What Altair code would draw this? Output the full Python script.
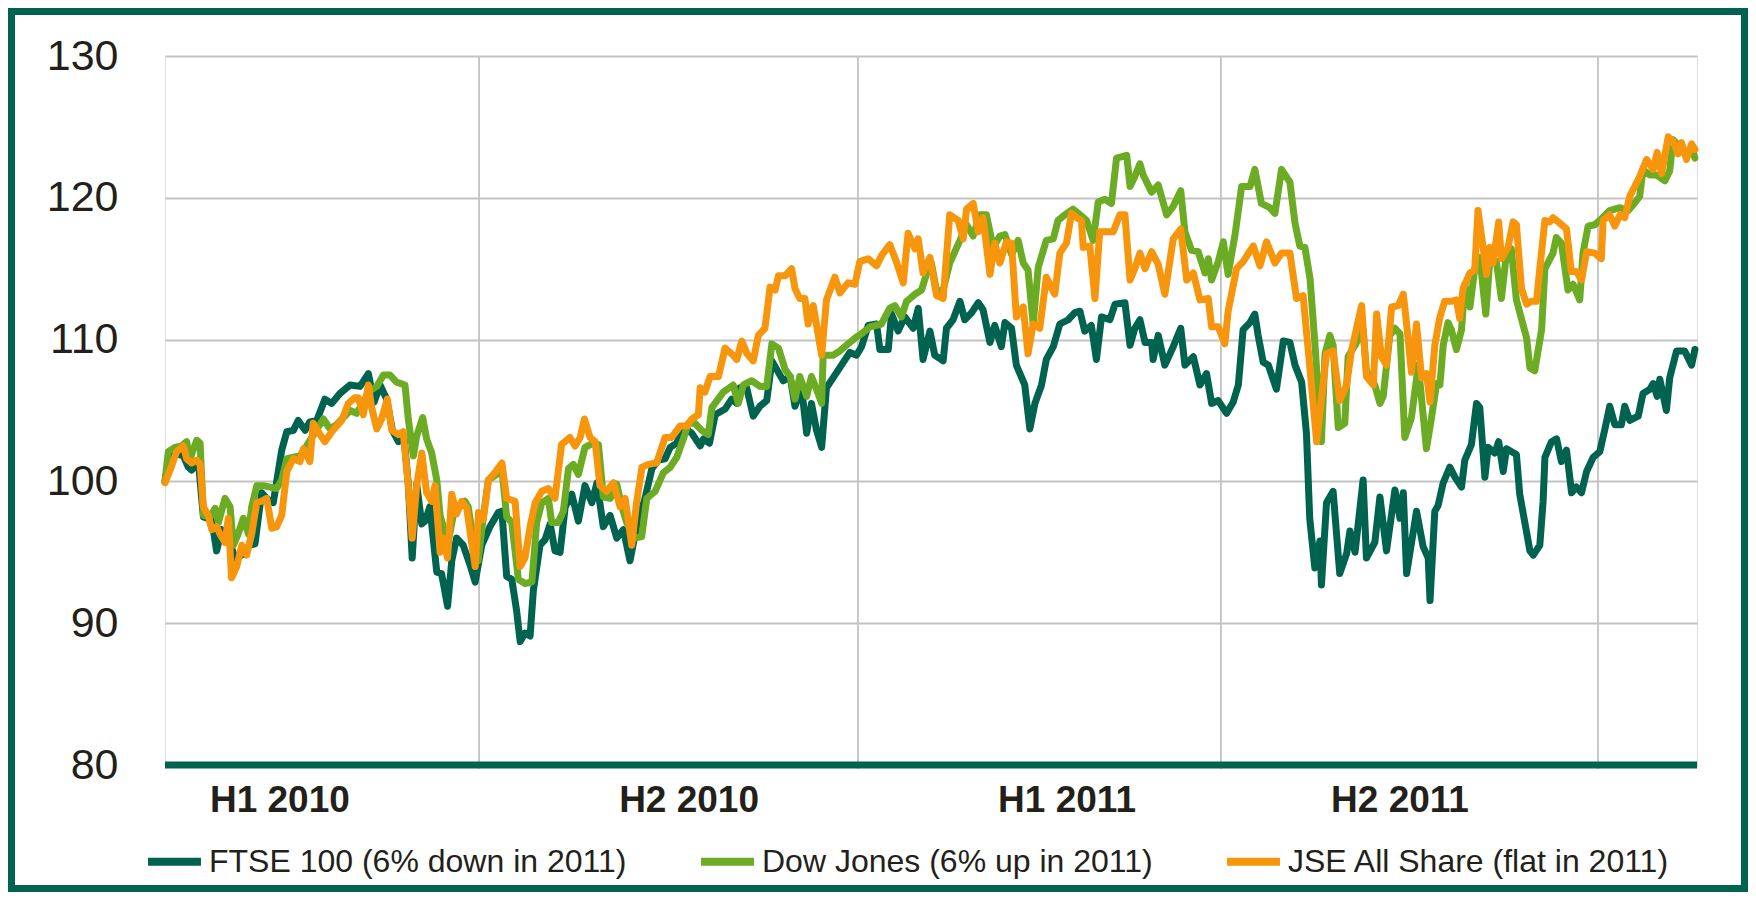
import altair as alt
import pandas as pd

# ---- data (trading-day index from the start of the window, index level) ----
ftse_points = [(0,100.0),(1.7,102.1),(6.1,101.8),(7.8,101.0),(8.9,100.8),(11.1,101.4),(12.8,97.5),(15.6,97.3),(17.2,95.1),(18.9,96.6),(21.1,96.0),(23.3,94.6),(25.6,94.8),(28.3,95.5),(30,95.6),(32.2,99.2),(34.4,98.7),(36.1,98.5),(38.9,102.2),(40.6,103.5),(42.8,103.6),(44.4,104.3),(46.7,103.6),(48.3,104.2),(50.6,104.3),(53.3,105.8),(55.6,105.5),(58.3,106.2),(61.7,106.8),(65,106.7),(67.8,107.6),(69.7,105.6),(71.7,106.8),(73.9,105.8),(75.8,103.6),(77.8,102.8),(79.7,103.1),(81.1,99.8),(82.4,94.6),(83.9,99.8),(85.6,97.0),(86.7,97.2),(88.3,98.2),(90.6,93.6),(92.2,93.5),(94.2,91.2),(95.6,94.4),(97.2,96.0),(99.4,95.5),(101.7,94.1),
(103.4,92.9),(105.6,95.5),(108.3,96.8),(111.1,97.8),(112.3,97.9),(113.9,93.3),(115.6,93.1),(117.2,90.9),(118.4,88.7),(120,89.3),(121.7,89.1),(122.8,92.3),(125,95.5),(126.7,95.9),(128.4,97.0),(130,95.1),(131.7,95.0),(133.4,98.2),(135.6,99.1),(137.8,97.2),(140,99.7),(142.3,98.5),(144,99.9),(146.1,96.8),(148.4,97.6),(150.6,96.0),(152.8,96.6),(155,94.4),(157.2,96.8),(160,98.8),(162.3,100.9),(164.5,101.5),(166.7,101.6),(168.4,102.4),(170.6,102.7),(172.8,103.8),(175.6,103.4),(178.4,102.5),(179.5,103.0),(181.5,102.7),(183.4,104.7),(186.7,105.1),(188.9,105.8),(190.6,105.5),(191.7,106.6),(193.9,106.6),(196.1,104.6),(198.3,105.3),(200.6,105.7),(202.3,108.5),(203.9,107.9),(206.1,107.1),(208.4,107.4),
(210,105.3),(212.2,106.6),(213.9,103.4),(215.5,105.5),(217.2,103.6),(218.9,102.4),(220.5,106.6),(223.3,107.5),(225.5,108.2),(228.3,109.1),(230.5,108.9),(232.2,109.5),(234.4,111.0),(237.2,111.1),(238.3,109.3),(241.1,109.3),(242.2,111.8),(244.4,110.6),(246.6,111.6),(249.4,110.8),(251.1,112.2),(252.7,108.6),(255,110.6),(256.6,108.9),(259.4,108.5),(260.5,110.8),(262.7,111.4),(265,112.7),(266.6,111.4),(268.9,111.9),(271.1,112.6),(272.7,112.1),(275,109.8),(276.6,111.0),(278.8,109.5),(280,111.2),(282.2,110.8),(283.8,108.2),(286.6,106.8),(288.3,103.7),(290,105.5),(292.2,106.8),(293.8,108.6),(296.1,109.5),(298.3,111.1),(301.1,111.4),(303.3,111.9),(305,112.0),(306.6,110.6),(308.8,111.0),(310.5,108.6),(312.2,111.6),
(315,111.4),(316.7,112.5),(320,112.6),(321.7,109.6),(323.3,110.8),(325,111.4),(326.7,109.8),(328.9,109.8),(329.4,108.6),(331.1,110.3),(333.3,108.2),(336.1,109.5),(338.6,110.8),(340,108.2),(342.8,108.8),(345,106.8),(347.2,107.6),(348.9,105.5),(351.1,105.7),(353.9,104.8),(356.1,105.6),(357.8,106.8),(359.4,110.7),(361.7,111.2),(363.3,111.8),(364.4,110.3),(366.1,108.4),(367.8,108.2),(370.5,106.5),(372.8,109.9),(375,109.8),(376.7,108.2),(378.9,107.0),(380.5,103.4),(381.6,97.4),(383.3,93.9),(385,95.8),(385.5,92.7),(387.2,98.5),(389.4,99.3),(391.6,93.5),(393.9,94.9),(395,96.5),(396.7,95.0),(399.4,100.1),(400.5,94.6),(403.3,95.7),(405,98.9),(407.2,95.1),(410,99.4),(411.7,97.4),(412.8,99.2),(413.9,93.5),(417.2,97.9),(419.4,95.4),(421.1,94.6),(421.7,91.6),(423.3,97.9),
(424.4,98.3),(426.1,99.9),(428.3,101.0),(430,100.3),(432.2,99.6),(433.3,101.5),(435.5,102.6),(437.2,105.5),(438.3,105.2),(440,100.3),(441.1,102.4),(443.3,102.0),(444.6,102.8),(446.1,100.7),(447.2,102.3),(450.5,101.9),(451.6,99.1),(453.9,96.4),(455,95.1),(456.1,94.8),(458.3,95.5),(459.4,98.6),(460,101.7),(462.2,102.8),(463.9,103.0),(465.5,101.4),(467.2,102.2),(468.9,99.2),(470.5,99.6),(472.2,99.2),(473.9,100.7),(476.1,101.7),(478.3,102.1),(480,103.7),(481.6,105.3),(483.3,104.0),(485.5,104.0),(486.6,105.3),(488.3,104.3),(491.1,104.6),(492.7,106.2),(495,106.5),(496.1,106.9),(497.4,106.0),(498.3,107.2),(500.5,105.0),(501.6,107.3),(503.9,109.2),(506.6,109.2),(508.9,108.2),(510,109.3)]

dow_points = [(0,100.0),(1.1,102.1),(3.3,102.4),(5.6,102.5),(7.2,102.8),(8.3,101.6),(10.6,102.9),(11.7,102.7),(12.8,97.6),(15,97.5),(16.7,98.1),(17.8,97.1),(20,98.8),(21.7,98.2),(22.8,95.5),(24.4,96.3),(26.1,97.4),(27.8,96.3),(28.9,98.2),(30.6,99.7),(32.8,99.7),(35,99.6),(37.2,99.5),(38.9,100.1),(40.6,101.6),(42.8,101.7),(45,101.8),(47.2,102.5),(52.8,104.4),(55,103.7),(57.2,104.0),(61.7,105.0),(63.9,104.8),(68.3,106.4),(70.6,106.7),(72.8,107.5),(75,107.5),(77.2,107.0),(80,106.8),(81.1,104.4),(82.8,101.8),(83.9,103.2),(85.9,104.5),(87.2,103.0),(88.9,102.0),(90.6,100.1),(91.7,97.6),(92.8,96.8),(94.4,95.7),(96.1,97.6),(97.8,98.1),(100,98.6),(101.1,98.2),(103.3,95.0),(104.4,94.4),(106.1,97.5),
(107.8,100.1),(110.6,100.5),(112.3,100.9),(113.9,97.5),(115.6,97.1),(117.8,93.1),(120,92.8),(122.3,92.9),(123.9,97.1),(125.6,98.5),(127.8,98.8),(128.9,97.1),(131.1,97.1),(132.8,97.9),(134.5,100.9),(136.1,101.2),(137.8,100.5),(140,102.4),(142.8,102.7),(144.5,102.6),(146.1,98.9),(148.4,98.8),(150.6,99.8),(152.3,98.2),(153.9,97.1),(156.7,96.0),(158.9,96.1),(160.6,98.8),(163.4,99.3),(166.1,100.6),(168.4,101.0),(170.6,101.7),(172.8,103.0),(174.5,104.1),(176.7,104.1),(178.9,103.6),(181.1,103.3),(182.3,105.2),(186.1,106.3),(189.4,106.8),(191.1,105.5),(192.8,106.8),(195.6,107.1),(198.3,106.7),(200.6,106.7),(202.3,109.7),(204.5,109.4),(206.7,107.9),(208.4,107.4),
(210,105.8),(211.6,107.4),(213.9,106.0),(215.5,107.4),(217.2,106.5),(218.9,105.5),(219.4,108.9),(222.7,108.9),(225,109.2),(227.7,109.7),(230,110.1),(232.7,110.5),(235,110.9),(238.8,111.1),(241.6,112.2),(243.3,112.4),(245.5,111.6),(247.2,112.7),(250,113.2),(252.2,113.5),(253.8,114.6),(255.5,115.4),(257.2,113.4),(259.4,113.5),(261.6,115.4),(265,117.0),(267.2,118.1),(269.4,117.3),(271.6,118.8),(273.8,118.8),(276.1,116.5),(278.3,117.3),(280,117.4),(282.2,116.0),(284.4,117.0),(286.1,115.4),(287.7,114.9),(289.4,111.1),(291.1,115.1),(293.8,117.0),(296.1,117.1),(297.7,118.4),(300,118.8),(302.7,119.2),(305,118.8),(307.2,118.4),(309.4,117.0),(311.1,119.7),(313.3,119.9),(315.5,119.6),
(317.2,122.8),(320.6,123.0),(321.7,120.8),(323.3,121.5),(325,122.4),(326.1,121.6),(328.9,120.4),(331.1,120.9),(333.9,118.8),(336.1,119.4),(338.6,120.5),(340,117.6),(342.2,116.3),(344.4,116.2),(346.7,114.7),(347.8,115.7),(348.9,114.2),(351.1,115.5),(352.8,116.9),(354.4,114.6),(356.7,117.4),(358.9,120.8),(361.7,120.8),(363.3,122.0),(365.5,119.6),(368.3,119.3),(370,118.9),(372.2,122.0),(375,121.1),(376.7,118.2),(378.3,116.6),(380,116.5),(381.7,114.3),(383.3,109.8),(385.5,102.8),(386.7,109.0),(388.3,110.3),(389.4,109.6),(391.1,103.8),(393.3,104.1),(394.4,108.8),(396.7,109.6),(399.4,110.7),(400.5,107.8),(403.3,106.8),(405,105.5),(406.1,106.0),(408.3,110.3),(410,110.8),(411.7,110.4),(413.3,103.1),(415.5,104.5),(417.8,108.2),(420.5,102.3),(422.2,104.5),(423.9,106.9),
(425,106.8),(426.1,109.6),(427.7,111.2),(428.8,110.7),(430.5,109.3),(432.2,110.7),(433.3,113.9),(435,112.3),(436.6,115.0),(438.3,115.8),(440.3,111.8),(441.6,115.5),(443.8,115.5),(445.5,112.9),(447.2,116.1),(448.8,116.4),(450.5,112.8),(453.9,110.1),(455,108.0),(456.6,107.8),(458.9,110.7),(460,115.0),(462.7,116.1),(463.8,117.2),(465.5,116.8),(467.7,113.5),(469.4,113.9),(471.6,112.8),(472.7,116.1),(474.4,118.0),(476.6,118.1),(478.8,118.5),(481.6,119.1),(485,119.3),(487.7,119.1),(489.4,119.5),(491.6,120.1),(492.7,122.0),(495,121.6),(497.2,121.6),(500,121.2),(501.6,121.9),(502.7,124.1),(505,123.6),(507.2,123.0),(508.9,123.6),(510,122.8)]

jse_points = [(0,99.9),(1.7,100.8),(3.9,102.1),(6.1,102.5),(7.2,101.6),(8.9,101.3),(10.6,101.5),(11.7,101.2),(12.8,98.2),(14.4,97.6),(15.6,96.6),(17.2,96.8),(18.3,96.3),(20,95.7),(21.1,97.4),(22.2,93.2),(23.9,94.0),(25.6,95.5),(27.2,94.8),(28.9,96.3),(30.6,98.5),(32.2,98.6),(33.9,98.8),(35.6,96.7),(37.2,96.8),(38.9,97.6),(40.6,100.7),(42.8,101.6),(45,101.4),(46.1,102.3),(48.3,101.4),(49.4,104.1),(51.7,103.3),(53.3,102.8),(55.6,103.5),(58.9,104.3),(61.1,105.5),(63.3,105.9),(64.4,105.9),(66.1,104.7),(67.8,106.8),(68.9,105.2),(70.6,103.7),(72.2,104.4),(74.1,105.8),(75.6,103.6),(77.8,103.3),(79.4,103.5),(81.1,99.7),(82.4,96.0),(83.9,99.7),(85.6,102.0),(87.2,99.2),(88.9,98.6),(90,99.7),(91.7,95.0),(92.8,96.0),(94.2,94.6),(95.6,99.1),(97.2,97.7),(98.9,98.6),(100.6,98.1),(102.2,95.7),
(103.4,94.0),(104.5,97.8),(106.1,97.3),(107.8,100.1),(109.5,100.5),(112.3,101.3),(113.9,98.8),(116.7,98.6),(118.4,94.0),(120,94.6),(121.7,96.8),(123.4,98.5),(125.6,99.3),(127.8,99.5),(130,98.8),(132.2,102.6),(135,103.1),(136.7,102.5),(138.4,103.1),(139.8,104.4),(141.7,103.1),(143.4,102.8),(145,99.7),(147.2,99.3),(149.5,99.9),(151.7,98.2),(153.4,98.8),(155.6,95.5),(157.2,98.5),(159,101.0),(161.1,101.2),(163.9,101.3),(166.7,103.1),(168.9,103.1),(171.7,103.9),(173.9,103.9),(175.6,104.4),(177.8,104.7),(178.4,106.6),(180,106.3),(181.7,107.4),(184.5,107.4),(186.7,109.4),(188.9,109.0),(190.6,108.6),(192.3,109.9),(194,109.0),(196.1,108.5),(197.8,110.3),(200,110.8),(201.7,113.7),(203.4,113.5),(204.5,114.5),(206.7,114.5),(208.9,115.0),
(210,113.6),(211.6,112.9),(213.3,112.9),(214.4,111.1),(216.1,112.4),(218.9,108.9),(220.5,112.8),(223.3,114.4),(225,113.3),(227.7,114.0),(230,113.9),(231.6,115.5),(234.4,115.7),(237.2,115.2),(238.8,115.9),(241.6,116.7),(243.8,115.5),(246.1,114.0),(247.7,117.5),(250,116.4),(251.1,117.1),(252.7,114.7),(255,115.8),(257.2,113.1),(259.4,112.9),(261.6,118.8),(264.4,118.4),(266.1,117.1),(267.2,119.2),(269.4,119.6),(271.1,117.6),(272.7,118.6),(275,114.6),(276.6,116.8),(278.3,115.4),(280.5,116.9),(282.2,116.8),(283.8,111.6),(286.1,112.3),(287.7,109.0),(289.4,111.1),(291.6,110.8),(293.8,114.4),(296.6,113.2),(298.3,116.1),(300.5,116.8),(302.2,118.9),(303.9,118.6),(305.5,118.4),(306.1,116.5),(308.3,116.6),(310,112.9),(311.6,117.6),(313.9,117.6),(316.1,117.6),
(318.3,118.8),(320,118.8),(321.7,114.2),(323.3,115.0),(325,116.1),(326.7,115.0),(328.9,116.2),(331.1,115.3),(333.3,113.2),(336.1,117.1),(338.6,117.8),(340.6,114.2),(342.8,114.7),(345,112.8),(347.8,112.9),(348.9,110.9),(351.1,110.9),(353.3,109.7),(354.4,112.0),(357.2,115.0),(359.4,115.5),(362.8,116.6),(365,115.2),(367.2,116.9),(370,115.4),(372.2,116.1),(375,116.1),(377.2,112.9),(379.4,113.1),(381.7,107.9),(383.9,102.8),(387.2,109.0),(389.4,109.2),(391.6,105.7),(393.9,106.8),(395.5,109.2),(398.9,112.4),(400.5,107.4),(402.8,106.8),(403.9,111.8),(405.5,108.8),(407.2,108.2),(408.9,112.3),(411.1,112.4),(412.8,113.2),(413.9,111.1),(415.5,107.7),(417.2,111.1),(418.9,107.3),(420.5,107.6),(421.7,105.6),(423.3,109.6),
(425,111.6),(426.6,112.7),(428.8,112.7),(430.5,112.8),(431.6,111.5),(432.7,113.6),(435,114.7),(436.6,114.9),(437.7,119.1),(439.4,116.5),(440.5,114.6),(441.6,116.5),(442.7,115.4),(444.6,118.3),(445.5,115.7),(447.7,116.5),(449.4,118.3),(450.5,118.1),(452.2,113.6),(453.9,112.5),(455.5,112.7),(457.2,112.7),(458.3,115.0),(460,118.4),(461.6,118.3),(462.7,118.6),(465,118.2),(467.2,117.8),(468.8,114.8),(470.5,114.8),(472.2,114.2),(473.9,116.2),(476.6,116.1),(478.8,115.7),(479.4,118.4),(481.6,118.8),(483.3,118.0),(485,118.8),(486.6,118.6),(488.3,120.1),(491.6,121.5),(493.9,122.7),(496.1,122.0),(497.4,123.2),(498.9,121.7),(501.1,124.3),(502.7,124.0),(504.4,123.1),(505.5,123.9),(507.2,122.7),(508.9,123.8),(510,123.4)]

series_names = ["FTSE 100 (6% down in 2011)", "Dow Jones (6% up in 2011)", "JSE All Share (flat in 2011)"]
series_colors = ["#00634F", "#6CAB24", "#F7950C"]

half_year_bounds = [104.7, 231, 352, 477.7]
period_labels = ["H1 2010", "H2 2010", "H1 2011", "H2 2011"]
period_centres = [38.3, 174.7, 300.7, 411.7]
y_ticks = [80, 90, 100, 110, 120, 130]

# ---- tables ----
rows = []
for name, pts in zip(series_names, [ftse_points, dow_points, jse_points]):
    for d, v in pts:
        rows.append({"day": d, "value": v, "series": name})
df = pd.DataFrame(rows)
df_bounds = pd.DataFrame({"day": half_year_bounds})
df_labels = pd.DataFrame({"day": period_centres, "label": period_labels})
df_base = pd.DataFrame({"value": [80]})
df_one = pd.DataFrame({"k": [0]})

DARK = "#00634F"
TEXT = "#231F1A"
FONT = "Liberation Sans"
W, H = 1532, 709

xscale = alt.Scale(domain=[0, 510.7], nice=False, zero=False)
yscale = alt.Scale(domain=[80, 130], nice=False, zero=False)
cscale = alt.Scale(domain=series_names, range=series_colors)

vgrid = alt.Chart(df_bounds).mark_rule(color="#C3C3C3", strokeWidth=1.8).encode(
    x=alt.X("day:Q", scale=xscale, axis=None),
    y=alt.value(0), y2=alt.value(H + 4),
)

legend = alt.Legend(
    orient="none", legendX=-21, legendY=775, direction="horizontal", title=None,
    symbolType="stroke", symbolSize=2800, symbolStrokeWidth=8,
    labelFontSize=32, labelFont=FONT, labelColor=TEXT, labelOffset=4,
    columnPadding=58, labelLimit=0,
)

layers = [vgrid]
for i, name in enumerate(series_names):
    layers.append(
        alt.Chart(df).transform_filter(alt.datum.series == name).mark_line(
            strokeWidth=7, strokeJoin="round", strokeCap="round"
        ).encode(
            x=alt.X("day:Q", scale=xscale, axis=None),
            y=alt.Y("value:Q", scale=yscale, axis=alt.Axis(
                values=y_ticks, grid=True, gridColor="#C3C3C3", gridWidth=1.8,
                domain=False, ticks=False, tickSize=0, labelFontSize=43, labelFont=FONT,
                labelColor=TEXT, labelPadding=47, title=None)),
            color=alt.Color("series:N", scale=cscale, legend=legend),
        )
    )

base_line = alt.Chart(df_base).mark_rule(color=DARK, strokeWidth=7).encode(
    y=alt.Y("value:Q", scale=yscale)
)

period_text = alt.Chart(df_labels).mark_text(
    font=FONT, fontSize=37, fontWeight="bold", color=TEXT, baseline="middle", align="center"
).encode(x=alt.X("day:Q", scale=xscale), y=alt.value(745), text="label:N")

frame = alt.Chart(df_one).mark_rect(filled=False, stroke=DARK, strokeWidth=7).encode(
    x=alt.value(-153.5), x2=alt.value(1579.5), y=alt.value(-44.5), y2=alt.value(832.5)
)

chart = alt.layer(*layers, base_line, period_text, frame).properties(
    width=W, height=H,
    padding={"left": 157, "top": 48, "right": 51, "bottom": 127},
    autosize=alt.AutoSizeParams(type="none"),
).configure_view(strokeWidth=0).configure(background="white")

chart.save("out.html", embed_options={"renderer": "svg", "actions": False})
